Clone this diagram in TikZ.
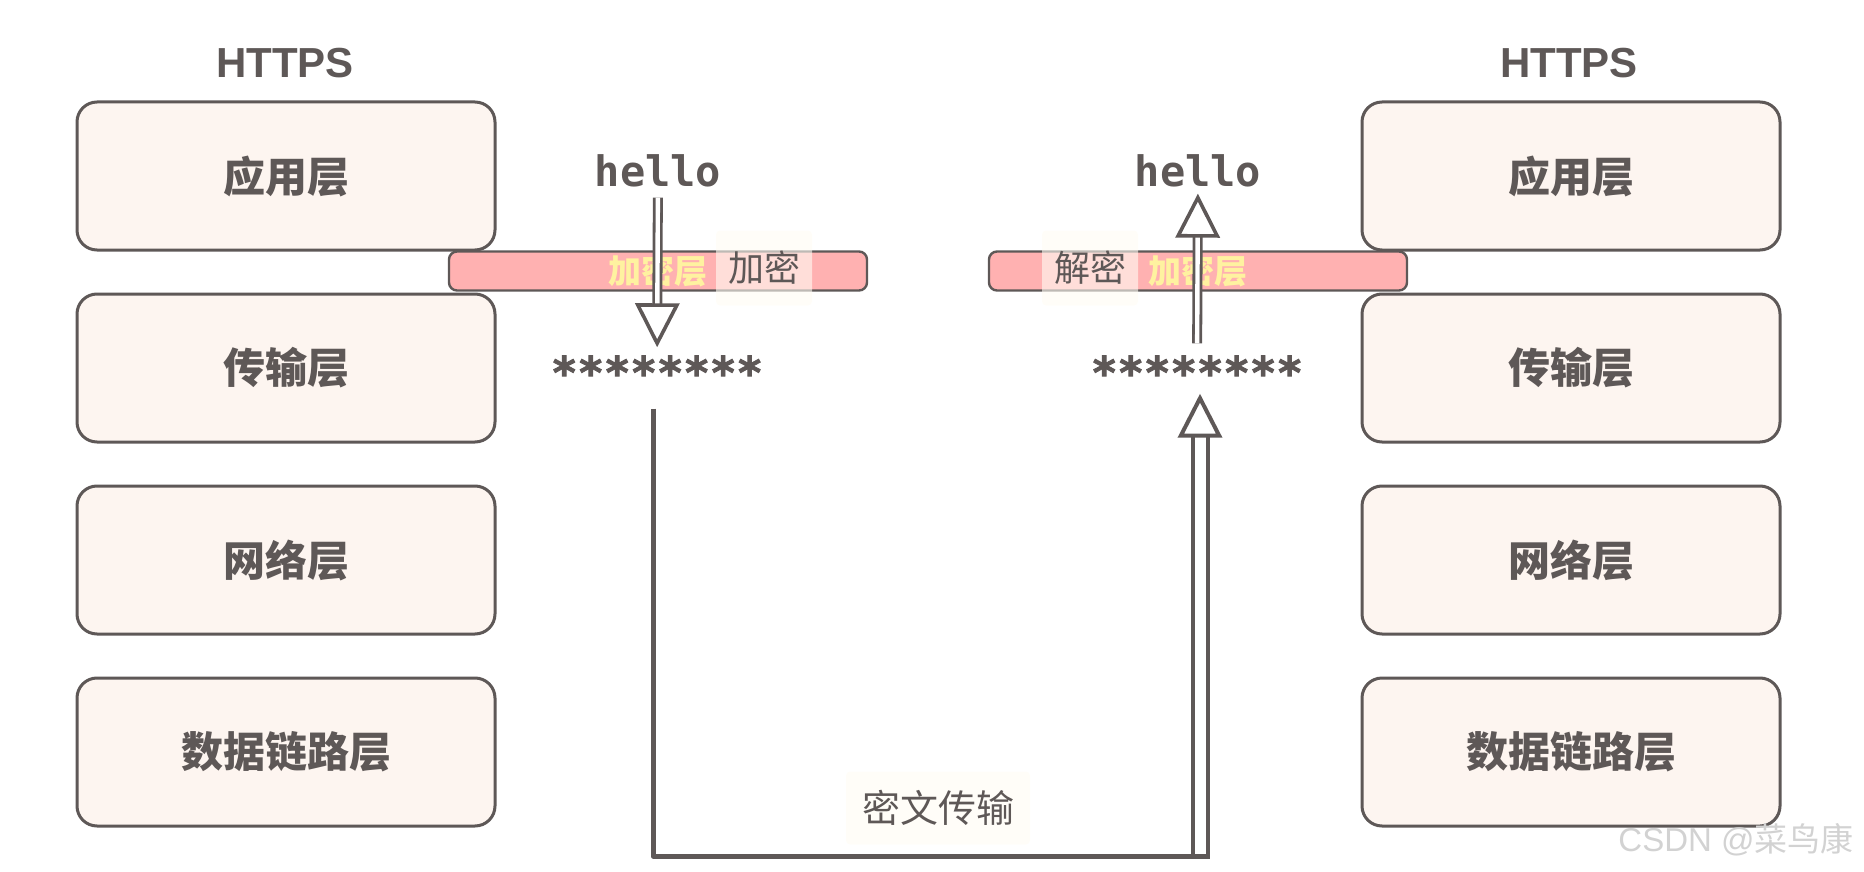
\documentclass[tikz,border=0pt]{standalone}
\usepackage{fontspec}
\setmainfont{Liberation Sans}
\setmonofont{DejaVu Sans Mono}
\newfontfamily\cjk{Noto Sans CJK SC}
\usepackage{xcolor}
\usetikzlibrary{arrows.meta,positioning}
\definecolor{ink}{HTML}{5E5857}
\definecolor{layerbg}{HTML}{FDF5F0}
\definecolor{barpink}{HTML}{FFB1B1}
\definecolor{barword}{HTML}{FFF2A0}
\definecolor{tagbg}{HTML}{FFFCF4}
\definecolor{wmark}{HTML}{D2D2D2}

\begin{document}
\begin{tikzpicture}[
  x=0.5pt,y=-0.5pt,
  node distance=20.5pt,
  layer/.style={rectangle,rounded corners=10pt,draw=ink,line width=1.5pt,fill=layerbg,minimum width=209pt,minimum height=74pt,text=ink,font=\cjk\bfseries\fontsize{21}{24}\selectfont},
  title/.style={inner sep=0pt,text=ink,font=\bfseries\fontsize{21}{24}\selectfont},
  word/.style={inner sep=0pt,text=ink,font=\ttfamily\bfseries\fontsize{21}{24}\selectfont},
  secret/.style={inner sep=0pt,text=ink,font=\ttfamily\bfseries\fontsize{22}{24}\selectfont\addfontfeatures{FakeBold=2}},
  bar/.style={rectangle,rounded corners=4pt,draw=ink,line width=1.2pt,fill=barpink,minimum width=209pt,minimum height=19.5pt,inner sep=0pt,text=barword,font=\cjk\bfseries\fontsize{16.5}{18}\selectfont},
  tag/.style={rectangle,rounded corners=2pt,fill=tagbg,fill opacity=0.6,text opacity=1,text=ink,inner xsep=6pt,minimum height=37.5pt,font=\cjk\fontsize{18}{20}\selectfont},
  hollow/.style={draw=ink,line width=1.4pt,double=white,double distance=2.2pt,-{Triangle[open,length=22pt,width=22pt,line width=1.8pt]}},
  wire/.style={draw=ink,line width=2.5pt,line join=round}
]
\useasboundingbox (0,0) rectangle (1864,872);

\node[title] (https-l) at (285,63) {HTTPS};
\node[layer] (app-l) at (286,176) {应用层};
\node[layer,below=of app-l] (tcp-l) {传输层};
\node[layer,below=of tcp-l] (ip-l) {网络层};
\node[layer,below=of ip-l] (link-l) {数据链路层};

\node[title] (https-r) at (1569,63) {HTTPS};
\node[layer] (app-r) at (1571,176) {应用层};
\node[layer,below=of app-r] (tcp-r) {传输层};
\node[layer,below=of tcp-r] (ip-r) {网络层};
\node[layer,below=of ip-r] (link-r) {数据链路层};

\node[bar] (bar-l) at (658,271) {加密层};
\node[bar] (bar-r) at (1198,271) {加密层};
\node[tag] (enc) at (764,268) {加密};
\node[tag] (dec) at (1090,268) {解密};

\node[word] (hello-l) at (658,171) {hello};
\node[secret] (stars-l) at (657,372) {********};
\node[word] (hello-r) at (1198,171) {hello};
\node[secret] (stars-r) at (1197,372) {********};

\node[tag,inner xsep=8pt,minimum height=36.5pt,font=\cjk\fontsize{19}{21}\selectfont] (cipher) at (938,808) {密文传输};

\coordinate (turn) at (1200,856);

\draw[hollow,shorten <=5pt,shorten >=4pt] (hello-l) -- (stars-l);
\draw[hollow,shorten <=6pt,shorten >=3pt] (stars-r) -- (hello-r);
\draw[hollow,line width=2pt,double distance=5.5pt,-{Triangle[open,length=22pt,width=22pt,line width=2pt]},shorten <=-1pt,shorten >=2.5pt] (turn) -- (turn |- stars-r.south);
\draw[wire,shorten <=10pt,shorten >=-5.2pt] ([xshift=-2pt]stars-l.south) |- (turn);

\node[text=wmark,font=\fontsize{16.5}{18}\selectfont] (mark) at (1736,840) {CSDN @{\cjk 菜鸟康}};
\end{tikzpicture}
\end{document}
